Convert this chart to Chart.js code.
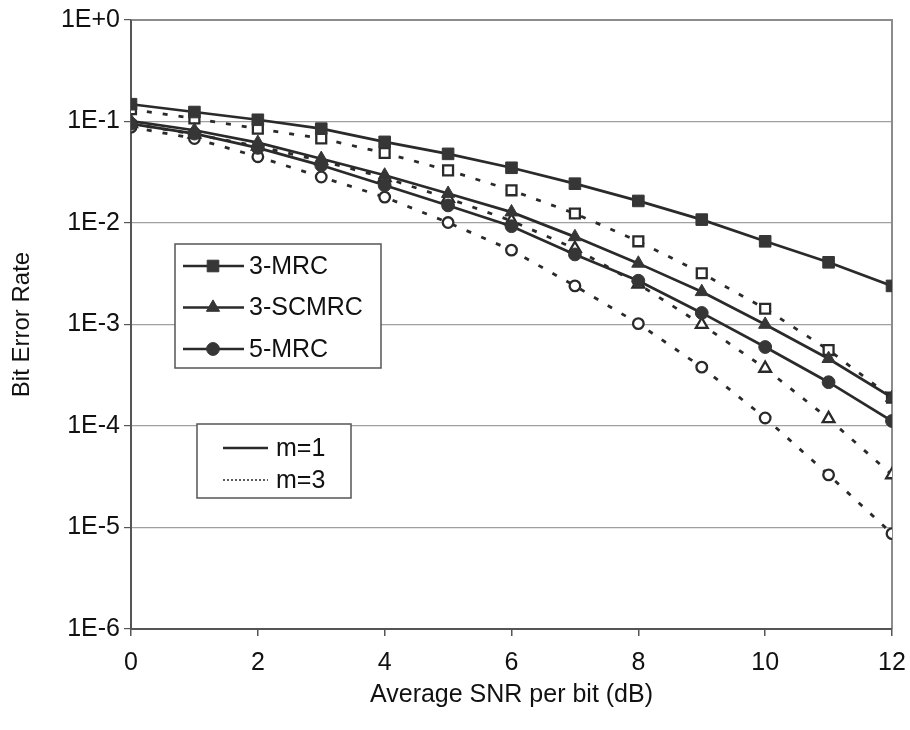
<!DOCTYPE html>
<html>
<head>
<meta charset="utf-8">
<script src="https://cdn.jsdelivr.net/npm/chart.js@4.4.0/dist/chart.umd.min.js"></script>
<style>
  html, body { margin: 0; padding: 0; background: #fff; }
</style>
</head>
<body>
<canvas id="berChart" width="910" height="730"></canvas>
<script>
// SNR per bit (dB)
const snrDb = [0, 1, 2, 3, 4, 5, 6, 7, 8, 9, 10, 11, 12];

// Bit error rate, m = 1
const mrc3M1   = [0.148, 0.124, 0.104, 0.085, 0.063, 0.048, 0.035, 0.0244, 0.0165, 0.0108, 0.0066, 0.0041, 0.0024];
const scmrc3M1 = [0.101, 0.082, 0.062, 0.043, 0.0295, 0.0195, 0.0128, 0.0073, 0.004, 0.0021, 0.001, 0.00046, 0.00019];
const mrc5M1   = [0.095, 0.076, 0.055, 0.037, 0.0235, 0.0149, 0.0093, 0.0049, 0.0027, 0.0013, 0.0006, 0.00027, 0.000112];

// Bit error rate, m = 3
const mrc3M3   = [0.132, 0.107, 0.085, 0.068, 0.049, 0.033, 0.021, 0.0124, 0.0066, 0.0032, 0.00143, 0.00056, 0.00019];
const scmrc3M3 = [0.095, 0.075, 0.057, 0.041, 0.028, 0.0175, 0.0105, 0.0056, 0.0025, 0.001, 0.00037, 0.000118, 0.000033];
const mrc5M3   = [0.088, 0.068, 0.045, 0.0284, 0.018, 0.0101, 0.0054, 0.0024, 0.00102, 0.00038, 0.00012, 0.000033, 0.0000087];

const yTicks = [1, 1e-1, 1e-2, 1e-3, 1e-4, 1e-5, 1e-6];
const xTicks = [0, 2, 4, 6, 8, 10, 12];

const schemeNames = ['3-MRC', '3-SCMRC', '5-MRC'];
const fadingNames = ['m=1', 'm=3'];

const INK = '#2a2a2a';
const FILL = '#363636';
const FAMILY = "'Liberation Sans', Arial, sans-serif";
const TICK_FONT = { family: FAMILY, size: 25 };
const TITLE_FONT = { family: FAMILY, size: 25 };

const toXY = arr => snrDb.map((x, i) => ({ x: x, y: arr[i] }));

const marks = {
  rect:     { filled: 8.2, open: 7.0 },
  triangle: { filled: 7.6, open: 6.8 },
  circle:   { filled: 6.4, open: 5.3 }
};

function solidSet(label, arr, style) {
  return {
    label: label, data: toXY(arr),
    borderColor: INK, borderWidth: 2.7,
    pointStyle: style, pointRadius: marks[style].filled,
    pointBackgroundColor: FILL, pointBorderColor: FILL, pointBorderWidth: 1,
    tension: 0
  };
}
function dashedSet(label, arr, style) {
  return {
    label: label, data: toXY(arr),
    borderColor: INK, borderWidth: 2.8, borderDash: [5, 11],
    pointStyle: style, pointRadius: marks[style].open,
    pointBackgroundColor: '#fff', pointBorderColor: INK, pointBorderWidth: 2.3,
    tension: 0
  };
}

// gray frame round the plot area
const frame = {
  id: 'frame',
  beforeDatasetsDraw(chart) {
    const { ctx, chartArea: a } = chart;
    ctx.save();
    ctx.lineWidth = 2;
    ctx.strokeStyle = '#8c8c8c';
    ctx.beginPath();
    ctx.moveTo(a.left, a.top); ctx.lineTo(a.right, a.top); ctx.lineTo(a.right, a.bottom);
    ctx.stroke();
    ctx.strokeStyle = '#555';
    ctx.beginPath();
    ctx.moveTo(a.left, a.top); ctx.lineTo(a.left, a.bottom); ctx.lineTo(a.right, a.bottom);
    ctx.stroke();
    ctx.restore();
  }
};

// two boxed legends inside the plot
const boxLegends = {
  id: 'boxLegends',
  afterDraw(chart) {
    const ctx = chart.ctx;
    const sets = chart.data.datasets;
    ctx.save();
    ctx.font = `25px ${FAMILY}`;
    ctx.textBaseline = 'middle';
    ctx.textAlign = 'left';

    // scheme legend
    ctx.fillStyle = '#fff';
    ctx.strokeStyle = '#555';
    ctx.lineWidth = 1.5;
    ctx.fillRect(175, 244, 206, 124);
    ctx.strokeRect(175, 244, 206, 124);
    schemeNames.forEach((name, i) => {
      const y = 266 + i * 41.5;
      const ds = sets[i];
      ctx.strokeStyle = INK;
      ctx.lineWidth = 2.6;
      ctx.setLineDash([]);
      ctx.beginPath(); ctx.moveTo(183, y); ctx.lineTo(244, y); ctx.stroke();
      ctx.fillStyle = FILL;
      ctx.strokeStyle = FILL;
      ctx.lineWidth = 1;
      Chart.helpers.drawPoint(ctx, { pointStyle: ds.pointStyle, radius: ds.pointRadius, rotation: 0, borderWidth: 1 }, 213, y);
      ctx.fillStyle = '#111';
      ctx.fillText(name, 249, y + 1);
    });

    // fading legend
    ctx.fillStyle = '#fff';
    ctx.strokeStyle = '#555';
    ctx.lineWidth = 1.5;
    ctx.fillRect(197, 424, 154, 74);
    ctx.strokeRect(197, 424, 154, 74);
    fadingNames.forEach((name, i) => {
      const y = 448 + i * 32;
      ctx.strokeStyle = INK;
      if (i === 0) { ctx.lineWidth = 2.4; ctx.setLineDash([]); }
      else { ctx.lineWidth = 1.6; ctx.setLineDash([2, 2]); }
      ctx.beginPath(); ctx.moveTo(223, y); ctx.lineTo(268, y); ctx.stroke();
      ctx.setLineDash([]);
      ctx.fillStyle = '#111';
      ctx.fillText(name, 276, y + 1);
    });
    ctx.restore();
  }
};

const expLabel = v => {
  const e = Math.round(Math.log10(v));
  return '1E' + (e >= 0 ? '+' : '') + e;
};

new Chart(document.getElementById('berChart'), {
  type: 'line',
  data: {
    datasets: [
      solidSet('3-MRC, m=1', mrc3M1, 'rect'),
      solidSet('3-SCMRC, m=1', scmrc3M1, 'triangle'),
      solidSet('5-MRC, m=1', mrc5M1, 'circle'),
      dashedSet('3-MRC, m=3', mrc3M3, 'rect'),
      dashedSet('3-SCMRC, m=3', scmrc3M3, 'triangle'),
      dashedSet('5-MRC, m=3', mrc5M3, 'circle')
    ]
  },
  options: {
    responsive: false,
    animation: false,
    devicePixelRatio: 1,
    layout: { padding: { left: 0, top: 20, right: 18, bottom: 0 } },
    plugins: {
      legend: { display: false },
      tooltip: { enabled: false }
    },
    scales: {
      x: {
        type: 'linear', min: 0, max: 12,
        afterBuildTicks: s => { s.ticks = xTicks.map(v => ({ value: v })); },
        afterFit: s => { s.height = 101; s.paddingLeft = 0; s.paddingRight = 0; },
        ticks: { font: TICK_FONT, color: '#111', padding: 12, maxRotation: 0 },
        grid: { drawOnChartArea: false, tickLength: 7, tickColor: '#555', lineWidth: 1.5 },
        border: { display: false },
        title: { display: true, text: 'Average SNR per bit (dB)', font: TITLE_FONT, color: '#111', padding: { top: 0, bottom: 20 } }
      },
      y: {
        type: 'logarithmic', min: 1e-6, max: 1,
        afterBuildTicks: s => { s.ticks = yTicks.map(v => ({ value: v })); },
        afterFit: s => { s.width = 131; s.paddingTop = 0; s.paddingBottom = 0; },
        ticks: { font: TICK_FONT, color: '#111', padding: 4, callback: v => expLabel(v) },
        grid: { color: '#a0a0a0', lineWidth: 1.2, tickLength: 7, tickColor: '#555' },
        border: { display: false },
        title: { display: true, text: 'Bit Error Rate', font: { family: FAMILY, size: 24 }, color: '#111', padding: { top: 8, bottom: 0 } }
      }
    }
  },
  plugins: [frame, boxLegends]
});
</script>
</body>
</html>
